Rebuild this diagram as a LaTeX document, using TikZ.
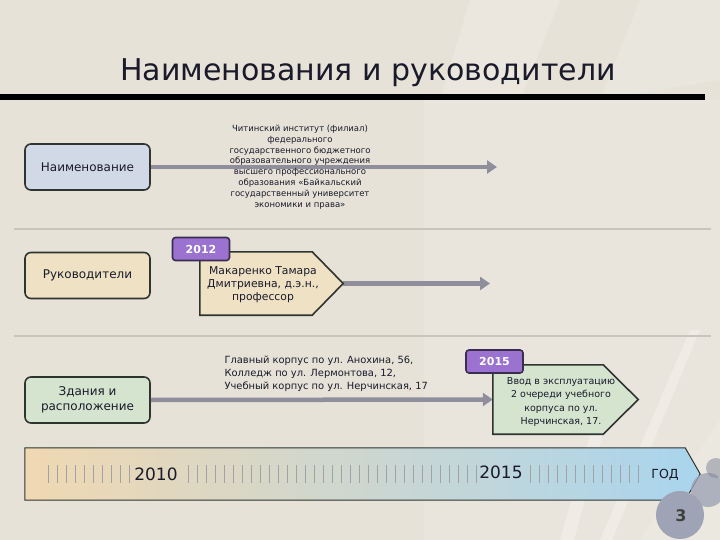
\documentclass[tikz,border=0pt]{standalone}
\usepackage{fontspec}
\setmainfont{DejaVu Sans}
\usetikzlibrary{calc,arrows.meta}
\definecolor{bg}{HTML}{E6E2D8}
\definecolor{boxline}{HTML}{2F3430}
\definecolor{bA}{HTML}{D2D9E6}
\definecolor{bB}{HTML}{EEE1C4}
\definecolor{bC}{HTML}{D4E4CF}
\definecolor{tagfill}{HTML}{9B72CF}
\definecolor{tagline}{HTML}{3A2E50}
\definecolor{conncol}{HTML}{8E8E9C}
\definecolor{sepcol}{HTML}{C9C5BC}
\definecolor{tlL}{HTML}{F0D8B2}
\definecolor{tlM}{HTML}{E4E1D8}
\definecolor{tlR}{HTML}{A9D5EE}
\definecolor{tickcol}{HTML}{A2A2A6}
\definecolor{txt}{HTML}{1A1A2A}
\definecolor{circA}{HTML}{9EA4B6}
\definecolor{circB}{HTML}{7D8498}
\begin{document}
\begin{tikzpicture}[x=1pt,y=-1pt,
  catbox/.style={draw=boxline, line width=1.6pt, rounded corners=6pt,
    minimum width=125pt, minimum height=46pt, align=center, text=txt,
    font=\fontsize{12}{14.5}\selectfont},
  tagbox/.style={draw=tagline, fill=tagfill, line width=1.6pt, rounded corners=3pt,
    minimum width=57pt, minimum height=23pt, inner sep=0pt, text=white,
    font=\bfseries\fontsize{11}{12}\selectfont},
  conn/.style={draw=conncol, line width=4.5pt, -{Triangle[length=10pt,width=13pt]}},
  sepline/.style={draw=sepcol, line width=1.4pt},
  pentline/.style={draw=boxline, line width=1.6pt, line join=miter},
  ticksty/.style={draw=tickcol, line width=0.8pt},
]
\useasboundingbox (0,0) rectangle (720,540);
\fill[bg] (0,0) rectangle (720,540);
% background decoration
\fill[white, opacity=0.12] (424,100) -- (720,100) -- (720,540) -- (424,540) -- cycle;
\fill[white, opacity=0.2] (470,0) -- (560,0) -- (520,100) -- (440,100) -- cycle;
\fill[white, opacity=0.15] (640,0) -- (720,0) -- (720,80) -- (600,100) -- cycle;
\fill[white, opacity=0.3] (560,540) -- (600,400) -- (612,400) -- (574,540) -- cycle;
\fill[white, opacity=0.3] (600,540) -- (690,330) -- (700,330) -- (612,540) -- cycle;
\fill[white, opacity=0.12] (640,540) -- (720,420) -- (720,540) -- cycle;

% title
\node[font=\fontsize{30}{34}\selectfont, text=txt] (title) at (368,73) {Наименования и руководители};
\draw[line width=6pt] (0,97) -- (705,97);

% separators
\coordinate (s1a) at (14,229); \coordinate (s1b) at (711,229);
\coordinate (s2a) at (14,336); \coordinate (s2b) at (711,336);
\draw[sepline] (s1a) -- (s1b);
\draw[sepline] (s2a) -- (s2b);

% row 1
\node[catbox, fill=bA] (n1) at (87.5,167) {Наименование};
\coordinate (e1) at (497,167);
\draw[conn] (n1.east) -- (e1);
\node[font=\fontsize{8.5}{10.8}\selectfont, align=center, text=txt] (t1) at (300,167)
 {Читинский институт (филиал)\\федерального\\государственного бюджетного\\образовательного учреждения\\высшего профессионального\\образования «Байкальский\\государственный университет\\экономики и права»};

% row 2
\node[catbox, fill=bB] (n2) at (87.5,275.5) {Руководители};
\node[inner sep=0pt, minimum width=143pt, minimum height=63pt] (p2) at (271.5,283.5) {};
\coordinate (e2) at (490,283.5);
\draw[conn] (p2.east) -- (e2);
\draw[pentline, fill=bB] (p2.north west) -- ($(p2.north east)+(-31,0)$) -- (p2.east)
  -- ($(p2.south east)+(-31,0)$) -- (p2.south west) -- cycle;
\node[font=\fontsize{10.8}{13}\selectfont, align=center, text=txt] (p2t) at (263,285)
 {Макаренко Тамара\\Дмитриевна, д.э.н.,\\профессор};
\node[tagbox] (tag12) at (201,249) {2012};

% row 3
\node[catbox, fill=bC] (n3) at (87.5,400) {Здания и\\расположение};
\node[font=\fontsize{9.9}{13}\selectfont, align=left, anchor=west, text=txt] (t3) at (221,374)
 {Главный корпус по ул. Анохина, 56,\\Колледж по ул. Лермонтова, 12,\\Учебный корпус по ул. Нерчинская, 17};
\node[inner sep=0pt, minimum width=145pt, minimum height=69pt] (p3) at (565.5,399.5) {};
\draw[conn] (n3.east) -- (p3.west);
\draw[pentline, fill=bC] (p3.north west) -- ($(p3.north east)+(-35,0)$) -- (p3.east)
  -- ($(p3.south east)+(-35,0)$) -- (p3.south west) -- cycle;
\node[font=\fontsize{9.5}{13.3}\selectfont, align=center, text=txt] (p3t) at (561,402)
 {Ввод в эксплуатацию\\2 очереди учебного\\корпуса по ул.\\Нерчинская, 17.};
\node[tagbox] (tag15) at (494.5,361.5) {2015};

% timeline
\node[inner sep=0pt, minimum width=675pt, minimum height=52pt] (tl) at (362.5,474) {};
\shade[left color=tlL, middle color=tlM, right color=tlR]
  (tl.north west) -- ($(tl.north east)+(-15,0)$) -- (tl.east) -- ($(tl.south east)+(-15,0)$)
  -- (tl.south west) -- cycle;
\draw[line width=1pt, draw=boxline] (tl.north west) -- ($(tl.north east)+(-15,0)$) -- (tl.east)
  -- ($(tl.south east)+(-15,0)$) -- (tl.south west) -- cycle;
\foreach \x in {48,57,...,130, 188,197,...,476, 530,539,...,642}
  \draw[ticksty] (\x,465) -- (\x,483);
\node[font=\fontsize{17}{18}\selectfont, text=txt] (y10) at (156,474) {2010};
\node[font=\fontsize{17}{18}\selectfont, text=txt] (y15) at (501,472) {2015};
\node[font=\fontsize{12.5}{13}\selectfont, text=txt] (god) at (665,475) {ГОД};

% page number
\fill[circA, opacity=0.8] (708,490) circle (17);
\fill[circB, opacity=0.5] (716,468) circle (10);
\fill[circA] (680,515) circle (24);
\node[font=\bfseries\fontsize{16}{18}\selectfont, text=black!75] (pg) at (681,516) {3};
\end{tikzpicture}
\end{document}
